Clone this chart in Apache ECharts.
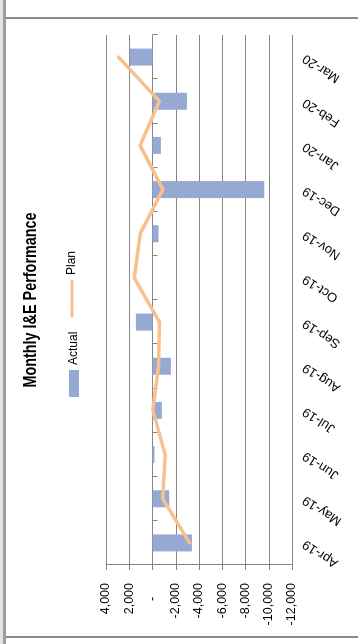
<!DOCTYPE html>
<html>
<head>
<meta charset="utf-8">
<script src="https://cdn.jsdelivr.net/npm/echarts@6/dist/echarts.min.js"></script>
<style>
  html, body { margin: 0; padding: 0; background: #fff; overflow: hidden; }
  #wrap { position: absolute; left: 0; top: 0; width: 358px; height: 644px; overflow: hidden; }
  /* the chart is laid out landscape and turned a quarter-turn anticlockwise */
  #chart { position: absolute; left: 0; top: 0; width: 644px; height: 358px;
           transform-origin: 0 0; transform: translate(0, 644px) rotate(-90deg); }
</style>
</head>
<body>
<div id="wrap"><div id="chart"></div></div>
<script>
// Monthly income & expenditure, actual vs plan
const months = ['Apr-19','May-19','Jun-19','Jul-19','Aug-19','Sep-19','Oct-19','Nov-19','Dec-19','Jan-20','Feb-20','Mar-20'];
const actual = [-3390, -1440, -170, -805, -1580, 1430, 0, -516, -9606, -720, -2960, 1950];
const plan   = [-3180, -890, -1090, -30, -520, -600, 1570, 1060, -890, 1060, -600, 2920];
const valueMin = -12000;
const valueMax = 4000;
const valueStep = 2000;
const chartTitle = 'Monthly I&E Performance';

const FONT = 'Liberation Sans';
const AXIS_GREY = '#868686';

function fmtValue(v) {
  if (v === 0) return '-    ';
  return v.toLocaleString('en-US');
}

const chart = echarts.init(document.getElementById('chart'), null, { renderer: 'canvas' });
chart.setOption({
  animation: false,
  backgroundColor: '#fff',
  textStyle: { fontFamily: FONT },
  legend: [
    {
      data: [{ name: 'Actual', icon: 'rect' }],
      left: 247, top: 68, padding: 0,
      itemWidth: 27, itemHeight: 10, itemGap: 5,
      textStyle: { fontFamily: FONT, fontSize: 12, color: '#000' }
    },
    {
      data: [{ name: 'Plan', icon: 'rect' }],
      left: 327, top: 66, padding: 0,
      itemWidth: 37, itemHeight: 3, itemGap: 5,
      textStyle: { fontFamily: FONT, fontSize: 12, color: '#000' }
    }
  ],
  graphic: [
    { type: 'rect', shape: { x: 0, y: 0, width: 644, height: 3 }, style: { fill: '#e4e4e4' }, silent: true },
    { type: 'rect', shape: { x: 0, y: 3, width: 644, height: 3 }, style: { fill: '#9c9c9c' }, silent: true },
    { type: 'line', shape: { x1: 7, y1: 6, x2: 7, y2: 358 }, style: { stroke: '#8a8a8a', lineWidth: 2 }, silent: true },
    { type: 'line', shape: { x1: 626, y1: 6, x2: 626, y2: 358 }, style: { stroke: '#8a8a8a', lineWidth: 2 }, silent: true },
    // heavy, condensed chart title
    {
      type: 'text', x: 344, y: 22, scaleX: 0.8, scaleY: 1, silent: true,
      style: { text: chartTitle, font: 'bold 18px ' + FONT, fill: '#000', align: 'center', verticalAlign: 'top' }
    }
  ],
  grid: { left: 79, top: 106, width: 530, height: 186, containLabel: false },
  xAxis: [
    {
      type: 'category',
      data: months,
      position: 'bottom',
      boundaryGap: true,
      axisLine: { show: false, onZero: false },
      axisTick: { show: false },
      axisLabel: { interval: 0, rotate: 57, margin: 12, fontFamily: FONT, fontSize: 13, color: '#000' },
      splitLine: { show: false }
    },
    {
      type: 'category',
      data: months,
      position: 'bottom',
      boundaryGap: true,
      axisLine: { show: true, onZero: true, lineStyle: { color: AXIS_GREY, width: 1 } },
      axisTick: { show: true, length: 5, alignWithLabel: false, interval: 0, lineStyle: { color: AXIS_GREY } },
      axisLabel: { show: false },
      splitLine: { show: false }
    }
  ],
  yAxis: {
    type: 'value',
    min: valueMin,
    max: valueMax,
    interval: valueStep,
    axisLine: { show: true, lineStyle: { color: AXIS_GREY, width: 1 } },
    axisTick: { show: true, length: 5, lineStyle: { color: AXIS_GREY } },
    axisLabel: { margin: 18, fontFamily: FONT, fontSize: 12.5, color: '#000', formatter: fmtValue },
    splitLine: { show: true, lineStyle: { color: AXIS_GREY, width: 1 } }
  },
  series: [
    {
      name: 'Actual',
      type: 'bar',
      xAxisIndex: 0,
      data: actual,
      barWidth: 17,
      itemStyle: { color: '#95a9d2' }
    },
    {
      name: 'Plan',
      type: 'line',
      xAxisIndex: 0,
      data: plan,
      showSymbol: false,
      symbol: 'none',
      lineStyle: { color: '#f9c08f', width: 3.5, cap: 'round', join: 'round' },
      itemStyle: { color: '#f9c08f' },
      z: 3
    }
  ]
});
</script>
</body>
</html>
